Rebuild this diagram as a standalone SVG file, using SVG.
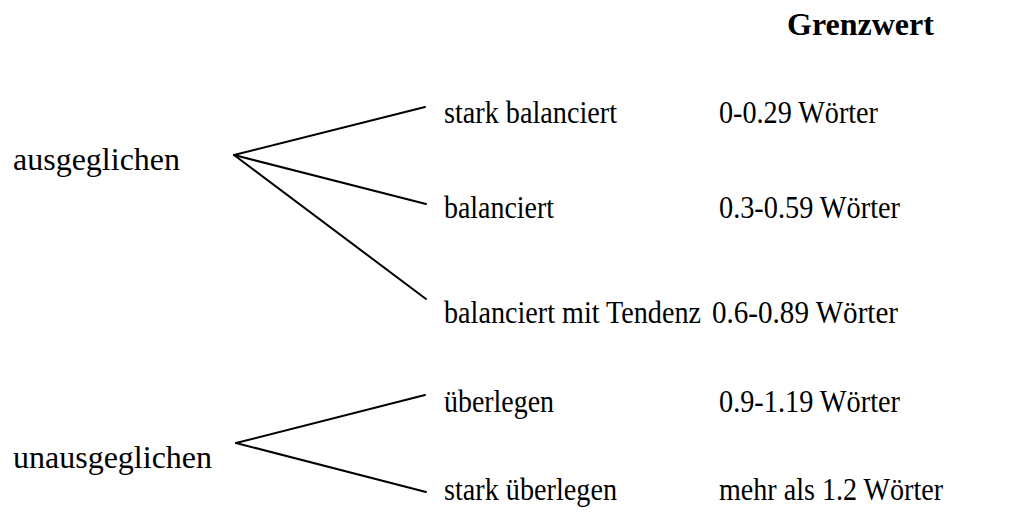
<svg xmlns="http://www.w3.org/2000/svg" width="1022" height="516" viewBox="0 0 1022 516">
<style>
text{font-family:"Liberation Serif","Times New Roman",serif;font-size:32px;fill:#000}
.h{font-weight:bold}
.c{font-size:28px}
line{stroke:#000;stroke-width:2;stroke-linecap:round}
</style>
<rect width="1022" height="516" fill="#fff"/>
<g id="header"><text class="h" x="787" y="35">Grenzwert</text></g>
<g id="ausgeglichen"><text x="13" y="170">ausgeglichen</text></g>
<g id="unausgeglichen"><text x="13" y="468">unausgeglichen</text></g>
<g id="stark-balanciert"><text class="c" transform="translate(444,123) scale(1,1.14)" textLength="173" lengthAdjust="spacingAndGlyphs">stark balanciert</text><text class="c" transform="translate(719,123) scale(1,1.14)" textLength="159" lengthAdjust="spacingAndGlyphs">0-0.29 Wörter</text></g>
<g id="balanciert"><text class="c" transform="translate(444,218) scale(1,1.14)" textLength="110" lengthAdjust="spacingAndGlyphs">balanciert</text><text class="c" transform="translate(719,218) scale(1,1.14)" textLength="181" lengthAdjust="spacingAndGlyphs">0.3-0.59 Wörter</text></g>
<g id="balanciert-tendenz"><text class="c" transform="translate(444,323) scale(1,1.14)" textLength="257" lengthAdjust="spacingAndGlyphs">balanciert mit Tendenz</text><text class="c" transform="translate(712,323) scale(1,1.14)" textLength="186" lengthAdjust="spacingAndGlyphs">0.6-0.89 Wörter</text></g>
<g id="ueberlegen"><text class="c" transform="translate(444,412) scale(1,1.14)" textLength="110" lengthAdjust="spacingAndGlyphs">überlegen</text><text class="c" transform="translate(719,412) scale(1,1.14)" textLength="181" lengthAdjust="spacingAndGlyphs">0.9-1.19 Wörter</text></g>
<g id="stark-ueberlegen"><text class="c" transform="translate(444,500) scale(1,1.14)" textLength="173" lengthAdjust="spacingAndGlyphs">stark überlegen</text><text class="c" transform="translate(719,500) scale(1,1.14)" textLength="224" lengthAdjust="spacingAndGlyphs">mehr als 1.2 Wörter</text></g>
<g id="connectors">
<line x1="234" y1="155" x2="425" y2="107"/>
<line x1="234" y1="155" x2="426" y2="204"/>
<line x1="234" y1="155" x2="426" y2="299"/>
<line x1="236" y1="443" x2="425" y2="395"/>
<line x1="236" y1="443" x2="426" y2="492"/>
</g>
</svg>
